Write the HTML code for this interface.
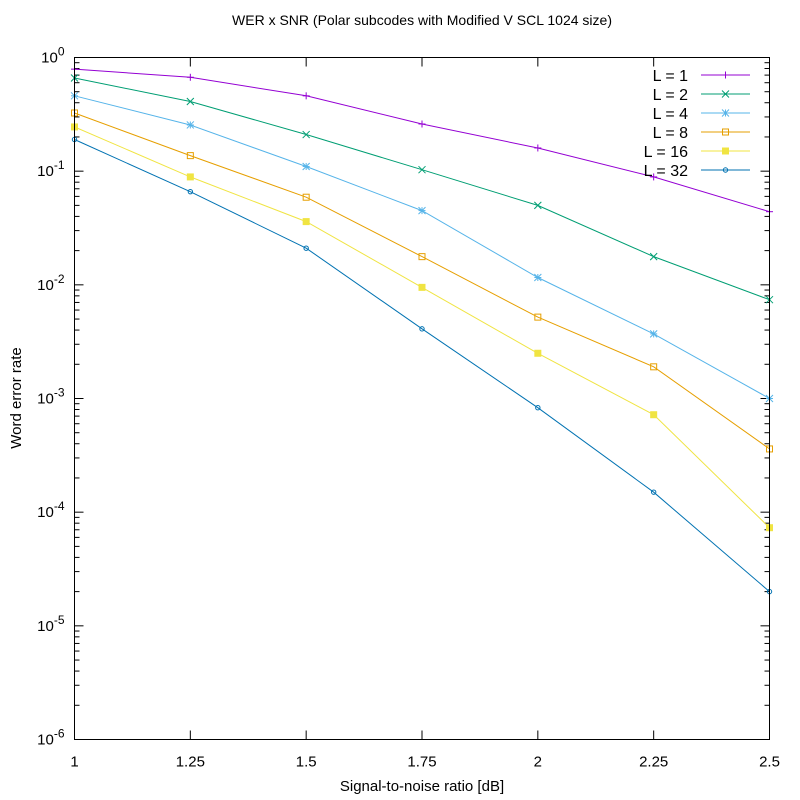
<!DOCTYPE html>
<html><head><meta charset="utf-8"><style>
body{margin:0;background:#fff}
svg{display:block;font-family:"Liberation Sans",Arial,sans-serif}
</style></head><body>
<svg id="chart" width="800" height="800" viewBox="0 0 800 800" xmlns="http://www.w3.org/2000/svg">
<rect width="800" height="800" fill="#fff"/>
<text x="422" y="25" font-size="14" text-anchor="middle" fill="#000">WER x SNR (Polar subcodes with Modified V SCL 1024 size)</text>
<text x="422" y="791" font-size="15" text-anchor="middle">Signal-to-noise ratio [dB]</text>
<text x="0" y="0" font-size="15" text-anchor="middle" transform="translate(21,398) rotate(-90)">Word error rate</text>
<g id="ticks"></g>
<g id="series"></g>
<g id="legend"></g>
<rect x="74.5" y="57.5" width="695" height="682" fill="none" stroke="#000" stroke-width="1"/>
</svg>
<script>
const snr = [1, 1.25, 1.5, 1.75, 2, 2.25, 2.5];
const xTicks = ["1", "1.25", "1.5", "1.75", "2", "2.25", "2.5"];
const yDecades = [0, -1, -2, -3, -4, -5, -6];
const labels = ["L = 1", "L = 2", "L = 4", "L = 8", "L = 16", "L = 32"];
const werL1 = [0.79, 0.67, 0.46, 0.26, 0.16, 0.089, 0.044];
const werL2 = [0.66, 0.41, 0.21, 0.103, 0.05, 0.0177, 0.0074];
const werL4 = [0.46, 0.255, 0.11, 0.045, 0.0116, 0.0037, 0.001];
const werL8 = [0.325, 0.137, 0.059, 0.0177, 0.0052, 0.0019, 0.00036];
const werL16 = [0.245, 0.089, 0.036, 0.0095, 0.0025, 0.00072, 0.000073];
const werL32 = [0.19, 0.066, 0.021, 0.0041, 0.00083, 0.00015, 0.00002];
const allSeries = [werL1, werL2, werL4, werL8, werL16, werL32];
const colors = ["#9400d3", "#009e73", "#56b4e9", "#e69f00", "#f0e442", "#0072b2"];
const markers = ["plus", "cross", "star", "box", "fbox", "circ"];

const L = 74.5, R = 769.5, T = 57.5, B = 739.5;
const NS = "http://www.w3.org/2000/svg";
function xs(v){ return L + (v - 1) / 1.5 * (R - L); }
function ys(v){ return T + (0 - Math.log10(v)) / 6 * (B - T); }
function mk(tag, attrs, parent){
  const e = document.createElementNS(NS, tag);
  for (const k in attrs) e.setAttribute(k, attrs[k]);
  parent.appendChild(e); return e;
}
const tg = document.getElementById("ticks");
xTicks.forEach((t, i) => {
  const x = xs(snr[i]);
  const a = mk("line", {x1:x, x2:x, y1:B, y2:B-9, stroke:"#000"}, tg);
  
  
  const b = mk("line", {x1:x, x2:x, y1:T, y2:T+9, stroke:"#000"}, tg);
  
  
  const tx = mk("text", {x:x, y:B+27, "font-size":15, "text-anchor":"middle"}, tg);
  tx.textContent = t;
  
  
});
yDecades.forEach(d => {
  const y = ys(Math.pow(10, d));
  [[L, L+9], [R, R-9]].forEach(p => {
    const l = mk("line", {x1:p[0], x2:p[1], y1:y, y2:y, stroke:"#000"}, tg);
    
    
  });
  if (d > -6) for (let m = 2; m <= 9; m++) {
    const ym = ys(m * Math.pow(10, d - 1));
    [[L, L+5], [R, R-5]].forEach(p => {
      const l = mk("line", {x1:p[0], x2:p[1], y1:ym, y2:ym, stroke:"#000"}, tg);
      
      
    });
  }
  const tx = mk("text", {x:L-10, y:y+5, "font-size":15, "text-anchor":"end"}, tg);
  tx.innerHTML = '10<tspan dy="-7" font-size="12">' + d + '</tspan>';
  
  
});
function marker(type, x, y, c, parent){
  let g = mk("g", {stroke:c, fill:"none", "stroke-width":1}, parent);
  const s = 3.5;
  if (type === "plus" || type === "star") {
    mk("line", {x1:x-s, x2:x+s, y1:y, y2:y}, g); mk("line", {x1:x, x2:x, y1:y-s, y2:y+s}, g);
  }
  if (type === "cross" || type === "star") {
    mk("line", {x1:x-s, x2:x+s, y1:y-s, y2:y+s}, g); mk("line", {x1:x-s, x2:x+s, y1:y+s, y2:y-s}, g);
  }
  if (type === "box") mk("rect", {x:x-3, y:y-3, width:6, height:6}, g);
  if (type === "fbox") mk("rect", {x:x-3.5, y:y-3.5, width:7, height:7, fill:c, stroke:"none"}, g);
  if (type === "circ") mk("circle", {cx:x, cy:y, r:2.2}, g);
  
  
}
const sg = document.getElementById("series");
const lg = document.getElementById("legend");
allSeries.forEach((vals, si) => {
  const g = mk("g", {}, sg);
  
  
  const pts = vals.map((v, i) => xs(snr[i]).toFixed(1) + "," + ys(v).toFixed(1)).join(" ");
  mk("polyline", {points:pts, fill:"none", stroke:colors[si], "stroke-width":1}, g);
  vals.forEach((v, i) => marker(markers[si], xs(snr[i]), ys(v), colors[si], g));
  const ly = 75 + si * 19;
  const le = mk("g", {}, lg);
  
  
  const t = mk("text", {x:688, y:ly+6, "font-size":16, "text-anchor":"end"}, le);
  t.textContent = labels[si];
  mk("line", {x1:701, x2:750, y1:ly, y2:ly, stroke:colors[si]}, le);
  marker(markers[si], 725.5, ly, colors[si], le);
});
</script>
</body></html>
